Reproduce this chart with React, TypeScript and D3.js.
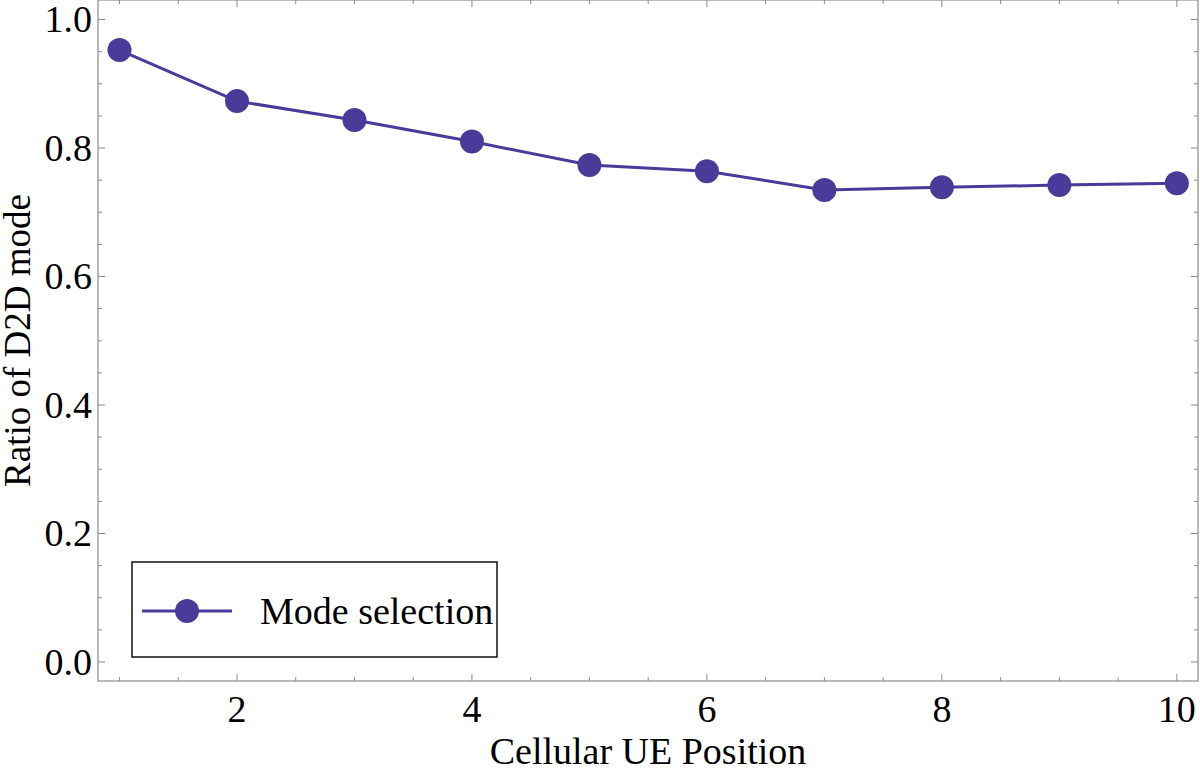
import React from 'react';
import * as d3 from 'd3';

// cellular UE position vs ratio of D2D mode
const positions = [1, 2, 3, 4, 5, 6, 7, 8, 9, 10];
const d2dRatio = [0.9525, 0.873, 0.8436, 0.81, 0.7735, 0.764, 0.7346, 0.7388, 0.7424, 0.745];
const xMajorTicks = [2, 4, 6, 8, 10];
const yMajorTicks = [0, 0.2, 0.4, 0.6, 0.8, 1.0];
const seriesName = 'Mode selection';

const W = 1200;
const H = 773;
const FONT = '"Liberation Serif", "Times New Roman", serif';
const COLOR = '#4a3a99';
const FRAME = '#8a8a8a';

const App = () => {
  const left = 98, right = 1198, top = 0, bottom = 681;
  const x = d3.scaleLinear().domain([0.817, 10.18]).range([left, right]);
  const y = d3.scaleLinear().domain([-0.0296, 1.0304]).range([bottom, top]);

  const xMinor = d3.range(1, 10.01, 0.5).filter((v) => !xMajorTicks.includes(v));
  const yMinor = d3.range(0, 1.001, 0.05).map((v) => +v.toFixed(2)).filter((v) => !yMajorTicks.some((t) => Math.abs(t - v) < 1e-6));

  const line = d3.line<number>().x((d, i) => x(positions[i])).y((d) => y(d));
  const major = 7, minor = 4;

  return (
    <svg width={W} height={H} style={{ position: 'absolute', left: 0, top: 0, background: '#fff' }} fontFamily={FONT}>
      <rect x={left} y={top} width={right - left} height={bottom - top} fill="none" stroke={FRAME} strokeWidth={1.2} />
      {/* x ticks bottom + top */}
      {xMajorTicks.map((t) => (
        <g key={'xm' + t}>
          <line x1={x(t)} x2={x(t)} y1={bottom} y2={bottom - major} stroke={FRAME} />
          <line x1={x(t)} x2={x(t)} y1={top} y2={top + major} stroke={FRAME} />
          <text x={x(t)} y={722} textAnchor="middle" fontSize={38}>{t}</text>
        </g>
      ))}
      {xMinor.map((t) => (
        <g key={'xn' + t}>
          <line x1={x(t)} x2={x(t)} y1={bottom} y2={bottom - minor} stroke={FRAME} />
          <line x1={x(t)} x2={x(t)} y1={top} y2={top + minor} stroke={FRAME} />
        </g>
      ))}
      {/* y ticks left + right */}
      {yMajorTicks.map((t) => (
        <g key={'ym' + t}>
          <line x1={left} x2={left + major} y1={y(t)} y2={y(t)} stroke={FRAME} />
          <line x1={right} x2={right - major} y1={y(t)} y2={y(t)} stroke={FRAME} />
          <text x={92} y={y(t)} dy="0.34em" textAnchor="end" fontSize={38}>{t.toFixed(1)}</text>
        </g>
      ))}
      {yMinor.map((t) => (
        <g key={'yn' + t}>
          <line x1={left} x2={left + minor} y1={y(t)} y2={y(t)} stroke={FRAME} />
          <line x1={right} x2={right - minor} y1={y(t)} y2={y(t)} stroke={FRAME} />
        </g>
      ))}

      <path d={line(d2dRatio) || ''} fill="none" stroke={COLOR} strokeWidth={3} />
      {d2dRatio.map((v, i) => (
        <circle key={i} cx={x(positions[i])} cy={y(v)} r={12} fill={COLOR} />
      ))}

      {/* legend */}
      <rect x={132} y={562} width={365} height={95} fill="#fff" stroke="#111" strokeWidth={1.5} />
      <line x1={142} x2={232} y1={611} y2={611} stroke={COLOR} strokeWidth={3} />
      <circle cx={187} cy={611} r={12} fill={COLOR} />
      <text x={260} y={624} fontSize={38}>{seriesName}</text>

      <text x={(left + right) / 2} y={764} textAnchor="middle" fontSize={38}>Cellular UE Position</text>
      <text transform={`translate(30, ${(top + bottom) / 2}) rotate(-90)`} textAnchor="middle" fontSize={37}>Ratio of D2D mode</text>
    </svg>
  );
};

export default App;
